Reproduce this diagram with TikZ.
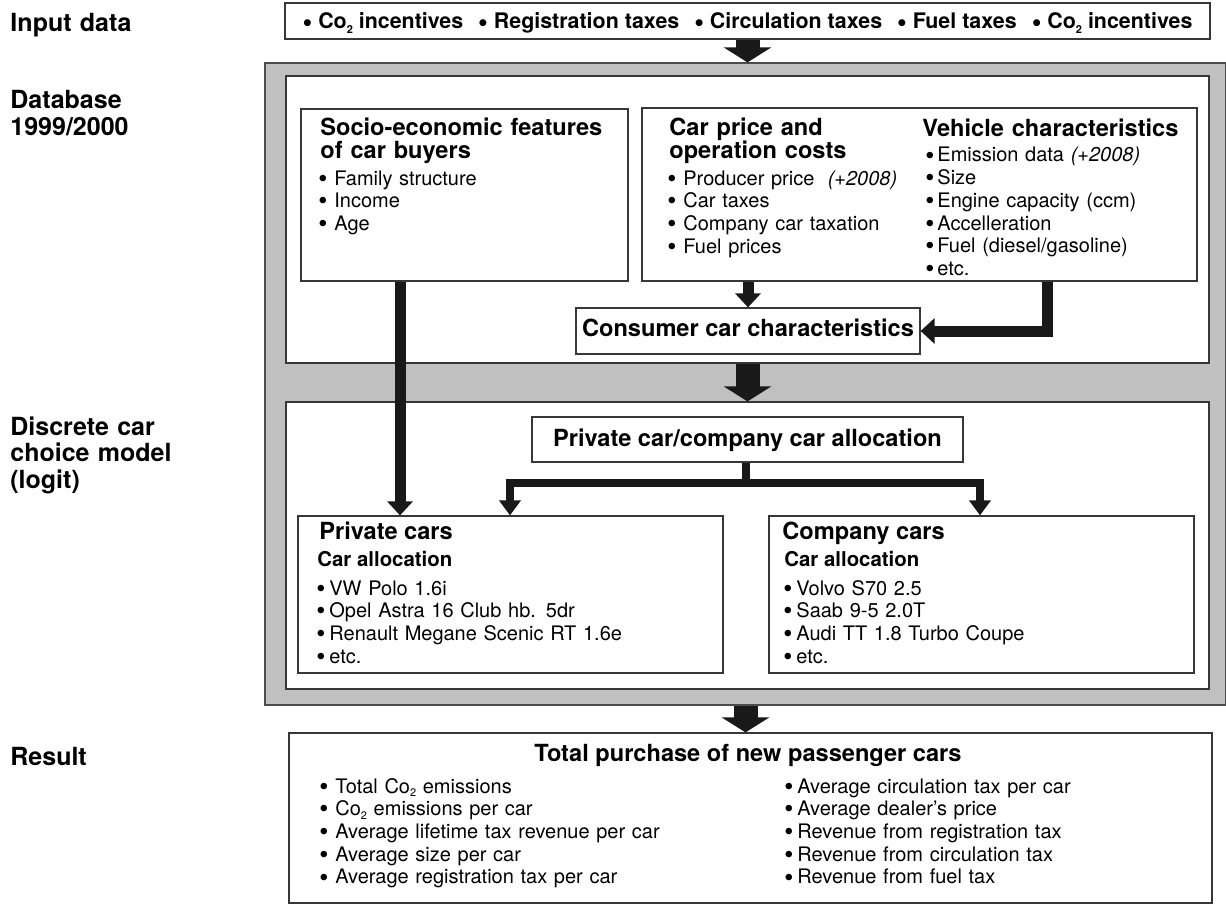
\documentclass[tikz,border=0pt]{standalone}
\usepackage{fontspec}
\usepackage{graphicx}
\setmainfont{TeX Gyre Heros}
\usetikzlibrary{arrows.meta,fit}

\definecolor{panelgray}{RGB}{192,192,192}
\definecolor{edgegray}{RGB}{55,55,55}
\definecolor{ink}{RGB}{25,25,25}

\newcommand{\bul}{\raisebox{-0.11em}{\scalebox{1.3}{\textbullet}}}
\newcommand{\itm}{\makebox[8pt][l]{\bul}}
\newcommand{\vitm}{\makebox[6pt][l]{\bul}}
\newcommand{\citm}{\makebox[6.5pt][l]{\bul}}
\newcommand{\sep}{\hspace{0.7em}\bul\ }
\newcommand{\cotwo}{Co\raisebox{-0.35ex}{\fontsize{5.5}{5.5}\selectfont 2}}

\tikzset{
  box/.style={draw=edgegray, line width=0.6pt, fill=white, inner sep=0pt},
  lbl/.style={anchor=base west, inner sep=0pt, text width=120pt, align=left,
    font=\fontsize{12.5}{13.3}\selectfont\bfseries},
  head/.style={anchor=base west, inner sep=0pt, text width=#1, align=left,
    font=\fontsize{11.8}{11.5}\selectfont\bfseries},
  head/.default=150pt,
  sub/.style={anchor=base west, inner sep=0pt, font=\fontsize{10.2}{11}\selectfont\bfseries},
  items/.style={anchor=base west, inner sep=0pt, text width=#1, align=left,
    font=\fontsize{10}{11.35}\selectfont},
  items/.default=120pt,
  bigarrow/.style={ink, line width=12pt, -{Triangle[width=23.5pt,length=7.5pt]}},
  midarrow/.style={ink, line width=5.5pt, line join=miter, -{Triangle[width=12.5pt,length=7pt]}},
  brancharrow/.style={ink, line width=4pt, line join=miter, -{Triangle[width=10.5pt,length=7.5pt]}}
}

\begin{document}
\begin{tikzpicture}[x=0.5pt,y=-0.5pt]
\useasboundingbox (0,0) rectangle (1226,904);

% row labels
\node[lbl] (lblinput) at (10,32) {Input data};
\node[lbl] (lbldb) at (10,109) {Database\\1999/2000};
\node[lbl] (lblmodel) at (10,435) {Discrete car\\choice model\\(logit)};
\node[lbl] (lblresult) at (10,765) {Result};

% input data
\node[box, fit={(285,3) (1210,39)}] (inputs) {};
\node[anchor=base, inner sep=0pt, font=\fontsize{10.7}{11}\selectfont\bfseries] (inputtxt) at (747.5,29)
  {\bul\ \cotwo{} incentives\sep Registration taxes\sep Circulation taxes\sep Fuel taxes\sep \cotwo{} incentives};

% grey frame
\node[fill=panelgray, draw=gray!60!black, line width=0.6pt, inner sep=0pt, fit={(265,63) (1226,705)}] (panel) {};

% database
\node[box, fit={(286,76) (1209,363)}] (db) {};
\node[box, fit={(301,109) (628,281)}] (socio) {};
\node[head] (sociohead) at (320,135) {Socio-economic features\\of car buyers};
\node[items] (socioitems) at (318,185) {\itm Family structure\\\itm Income\\\itm Age};

\node[box, fit={(642,108) (1197,281)}] (carprice) {};
\node[head=115pt] (pricehead) at (669,135) {Car price and\\operation costs};
\node[items] (priceitems) at (667,185) {\itm Producer price\ \ \textit{(+2008)}\\\itm Car taxes\\\itm Company car taxation\\\itm Fuel prices};
\node[head=134pt] (vehhead) at (922,137) {Vehicle characteristics};
\node[items=130pt] (vehitems) at (925,162) {\vitm Emission data \textit{(+2008)}\\\vitm Size\\\vitm Engine capacity (ccm)\\\vitm Accelleration\\\vitm Fuel (diesel/gasoline)\\\vitm etc.};

\node[box, fit={(576,308) (920,354)}] (consumer) {};
\node[anchor=base, inner sep=0pt, font=\fontsize{11.8}{12}\selectfont\bfseries] (consumertxt) at (748,336) {Consumer car characteristics};

% choice model
\node[box, fit={(286,402) (1209,689)}] (model) {};
\node[box, fit={(532,417) (963,462)}] (alloc) {};
\node[anchor=base, inner sep=0pt, font=\fontsize{11.8}{12}\selectfont\bfseries] (alloctxt) at (747.5,446) {Private car/company car allocation};

\node[box, fit={(298,516) (723,673)}] (privcars) {};
\node[sub, font=\fontsize{11.8}{12}\selectfont\bfseries] (privhead) at (319,539) {Private cars};
\node[sub] (privsub) at (317,566) {Car allocation};
\node[items=180pt] (privitems) at (316,595) {\citm VW Polo 1.6i\\\citm Opel Astra 16 Club hb. 5dr\\\citm Renault Megane Scenic RT 1.6e\\\citm etc.};

\node[box, fit={(769,516) (1194,673)}] (compcars) {};
\node[sub, font=\fontsize{11.8}{12}\selectfont\bfseries] (comphead) at (782,539) {Company cars};
\node[sub] (compsub) at (784,566) {Car allocation};
\node[items=180pt] (compitems) at (783,595) {\citm Volvo S70 2.5\\\citm Saab 9-5 2.0T\\\citm Audi TT 1.8 Turbo Coupe\\\citm etc.};

% result
\node[box, fit={(289,733) (1212,903)}] (result) {};
\node[anchor=base, inner sep=0pt, font=\fontsize{11.8}{12}\selectfont\bfseries] (resulthead) at (748,761) {Total purchase of new passenger cars};
\node[items=190pt] (resleft) at (319,793) {\itm Total \cotwo{} emissions\\\itm \cotwo{} emissions per car\\\itm Average lifetime tax revenue per car\\\itm Average size per car\\\itm Average registration tax per car};
\node[items=190pt] (resright) at (784,793) {\citm Average circulation tax per car\\\citm Average dealer’s price\\\citm Revenue from registration tax\\\citm Revenue from circulation tax\\\citm Revenue from fuel tax};

% arrows
\coordinate (split) at (746,483);
\draw[bigarrow] (inputs.south) -- (inputs.south |- panel.north);
\draw[bigarrow] (db.south) -- (model.north);
\draw[bigarrow] (panel.south) -- (panel.south |- result.north);
\draw[midarrow] (consumer.north |- carprice.south) -- (consumer.north);
\draw[midarrow] (carprice.south -| 1047,0) |- (consumer.east);
\draw[midarrow] (socio.south -| 400,0) -- (privcars.north -| 400,0);
\draw[brancharrow] (alloc.south -| split) -- (split) -| (privcars.north -| 510,0);
\draw[brancharrow] (split) -| (compcars.north -| 980,0);
\end{tikzpicture}
\end{document}
